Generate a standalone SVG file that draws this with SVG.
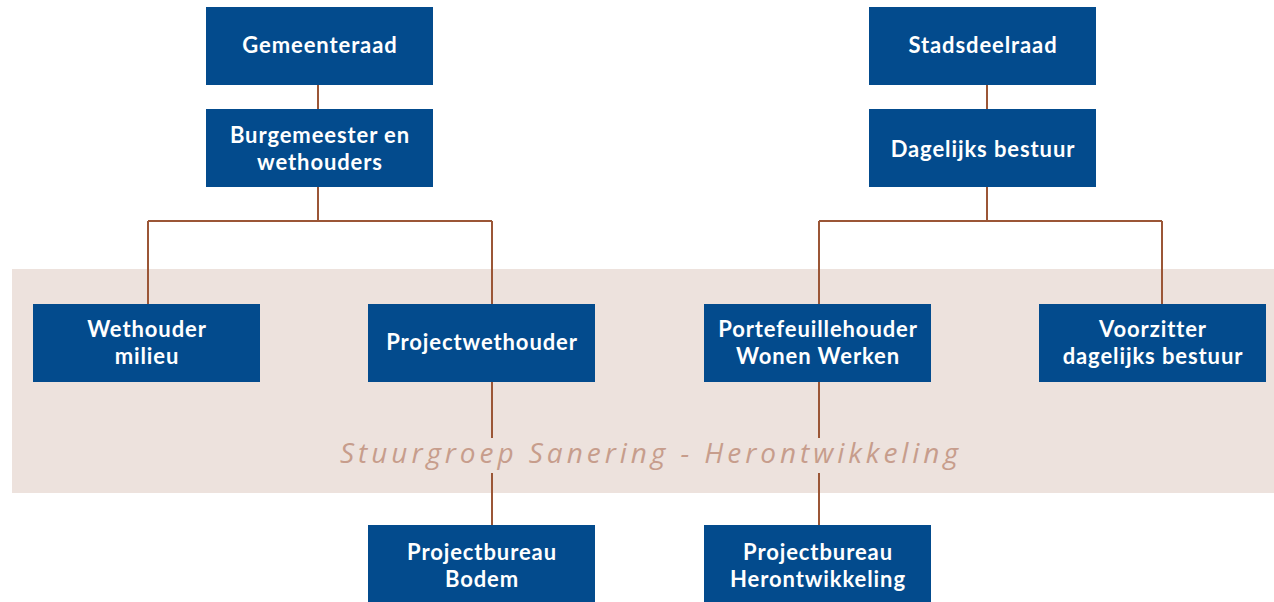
<svg xmlns="http://www.w3.org/2000/svg" width="1274" height="602" viewBox="0 0 1274 602">
<style>
.box{fill:#034b8d}
.t{font-family:Lato,"Open Sans","Liberation Sans",sans-serif;font-weight:bold;font-size:22px;letter-spacing:0.9px;fill:#fff;text-anchor:middle}
.c{stroke:#9b5636;stroke-width:2;fill:none}
.band{fill:#ede2dd}
.st{font-family:"Open Sans","Liberation Sans",sans-serif;font-style:italic;font-size:28px;fill:#c79d8c}
</style>
<rect class="band" x="12" y="269" width="1262" height="224"/>
<text class="st" x="340" y="463" textLength="618" lengthAdjust="spacing">Stuurgroep Sanering - Herontwikkeling</text>
<g id="connectors">
<path class="c" d="M318 85V109M318 187V221M148 221H492M148 221V304M492 221V304"/>
<path class="c" d="M987 85V109M987 187V221M819 221H1162M819 221V304M1162 221V304"/>
<path class="c" d="M492 382V438M492 473V525M819 382V438M819 473V525"/>
</g>
<g id="gemeenteraad"><rect class="box" x="206" y="7" width="227" height="78"/><text class="t" x="320" y="53">Gemeenteraad</text></g>
<g id="burgemeester"><rect class="box" x="206" y="109" width="227" height="78"/><text class="t" x="320" y="143">Burgemeester en</text><text class="t" x="320" y="169.5">wethouders</text></g>
<g id="stadsdeelraad"><rect class="box" x="869" y="7" width="227" height="78"/><text class="t" x="983" y="53">Stadsdeelraad</text></g>
<g id="dagelijks"><rect class="box" x="869" y="109" width="227" height="78"/><text class="t" x="983" y="157">Dagelijks bestuur</text></g>
<g id="wethouder-milieu"><rect class="box" x="33" y="304" width="227" height="78"/><text class="t" x="147" y="337">Wethouder</text><text class="t" x="147" y="363.5">milieu</text></g>
<g id="projectwethouder"><rect class="box" x="368" y="304" width="227" height="78"/><text class="t" x="482" y="350">Projectwethouder</text></g>
<g id="portefeuillehouder"><rect class="box" x="704" y="304" width="227" height="78"/><text class="t" x="818" y="337">Portefeuillehouder</text><text class="t" x="818" y="363.5">Wonen Werken</text></g>
<g id="voorzitter"><rect class="box" x="1039" y="304" width="227" height="78"/><text class="t" x="1153" y="337">Voorzitter</text><text class="t" x="1153" y="363.5">dagelijks bestuur</text></g>
<g id="pb-bodem"><rect class="box" x="368" y="525" width="227" height="77"/><text class="t" x="482" y="560">Projectbureau</text><text class="t" x="482" y="586.5">Bodem</text></g>
<g id="pb-herontwikkeling"><rect class="box" x="704" y="525" width="227" height="77"/><text class="t" x="818" y="560">Projectbureau</text><text class="t" x="818" y="586.5">Herontwikkeling</text></g>
</svg>
